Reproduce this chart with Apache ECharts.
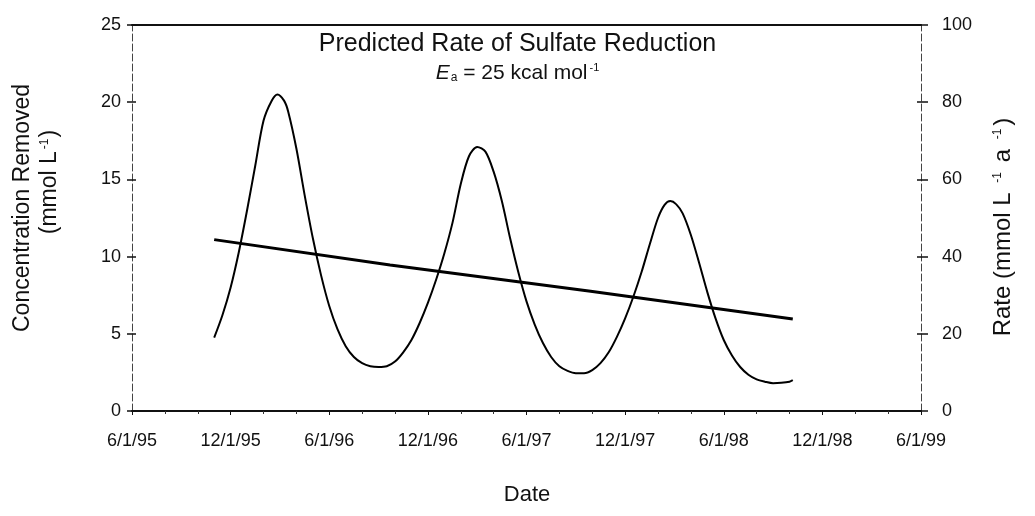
<!DOCTYPE html>
<html>
<head>
<meta charset="utf-8">
<script src="https://cdn.jsdelivr.net/npm/echarts@6/dist/echarts.min.js"></script>
<style>
  html, body { margin: 0; padding: 0; background: #fff; }
  #chart { width: 1035px; height: 516px; }
</style>
</head>
<body>
<div id="chart"></div>
<script>
// X positions are months after 6/1/95; ticks every 6 months
const tickLabels = ['6/1/95', '12/1/95', '6/1/96', '12/1/96', '6/1/97', '12/1/97', '6/1/98', '12/1/98', '6/1/99'];

// Seasonal sulfate reduction rate (mmol L-1 a-1), right axis
const rateMonths = [5.0, 5.5, 6.0, 6.5, 7.0, 7.5, 8.0, 8.5, 8.85, 9.25, 9.5, 10.0, 10.5, 11.0, 11.5, 12.0, 12.5, 13.0, 13.5, 14.0,
  14.5, 15.0, 15.5, 16.0, 16.5, 17.0, 17.5, 18.0, 18.5, 19.0, 19.5, 20.0, 20.5, 21.0, 21.5, 22.0, 22.5, 23.0, 23.5, 24.0,
  24.5, 25.0, 25.5, 26.0, 26.5, 27.0, 27.5, 28.0, 28.5, 29.0, 29.5, 30.0, 30.5, 31.0, 31.5, 32.0, 32.4, 32.75, 33.1, 33.5,
  34.0, 34.5, 35.0, 35.5, 36.0, 36.5, 37.0, 37.5, 38.0, 38.5, 39.0, 39.5, 40.0, 40.2];
const rateValues = [19.0, 24.8, 32.0, 41.2, 52.0, 63.6, 75.2, 80.4, 82.0, 80.4, 77.6, 68.0, 56.0, 44.8, 35.2, 27.2, 21.2, 16.8, 14.0, 12.4,
  11.6, 11.4, 11.6, 12.8, 15.2, 18.4, 22.8, 28.0, 34.0, 40.8, 48.8, 58.8, 66.0, 68.4, 67.2, 62.0, 54.4, 44.8, 36.0, 28.4,
  22.4, 17.6, 14.0, 11.6, 10.4, 9.8, 9.8, 10.6, 12.4, 15.2, 19.2, 24.0, 29.6, 36.0, 43.2, 50.0, 53.4, 54.4, 53.6, 51.2,
  45.6, 38.4, 30.8, 24.0, 18.4, 14.4, 11.4, 9.4, 8.2, 7.6, 7.2, 7.3, 7.6, 8.0];

// Concentration removed (mmol L-1), left axis
const concMonths = [5.0, 15.7, 27.9, 40.2];
const concValues = [11.1, 9.45, 7.75, 5.96];

const FONT = 'Liberation Sans, Arial, Helvetica, sans-serif';

const rateData = rateMonths.map((m, i) => [m, rateValues[i]]);
const concData = concMonths.map((m, i) => [m, concValues[i]]);

const chart = echarts.init(document.getElementById('chart'), null, { renderer: 'canvas' });

const gridLeft = 132, gridRight = 114, gridTop = 25, gridBottom = 105;

const sideLine = { show: true, onZero: false, lineStyle: { color: '#444', width: 1, type: [7, 3] } };

// Short tick stubs drawn on the inner side of each value axis
const innerTicks = (pos, max, step) => ({
  type: 'value', min: 0, max: max, interval: step, position: pos,
  axisLine: { show: false, onZero: false },
  axisTick: { show: true, inside: true, length: 4, lineStyle: { color: '#111', width: 1.5 } },
  axisLabel: { show: false },
  splitLine: { show: false }
});

chart.setOption({
  animation: false,
  backgroundColor: '#ffffff',
  textStyle: { fontFamily: FONT, color: '#111' },
  title: {
    left: 'center',
    top: 27,
    itemGap: 5,
    text: 'Predicted Rate of Sulfate Reduction',
    textStyle: { fontFamily: FONT, fontSize: 25, fontWeight: 'normal', color: '#111' },
    subtext: '{i|E}{s|a}{n| = 25 kcal mol}{p|-1}',
    subtextStyle: {
      fontFamily: FONT, fontSize: 21, color: '#111',
      rich: {
        i: { fontFamily: FONT, fontSize: 21, fontStyle: 'italic', color: '#111' },
        s: { fontFamily: FONT, fontSize: 12, color: '#111', padding: [9, 0, 0, 1] },
        n: { fontFamily: FONT, fontSize: 21, color: '#111' },
        p: { fontFamily: FONT, fontSize: 11, color: '#111', padding: [0, 0, 11, 2] }
      }
    }
  },
  grid: { left: gridLeft, right: gridRight, top: gridTop, bottom: gridBottom, containLabel: false },
  xAxis: [{
    type: 'value',
    min: 0, max: 48, interval: 6,
    position: 'bottom',
    axisLine: { onZero: false, lineStyle: { color: '#111', width: 2 } },
    axisTick: { show: true, length: 4, lineStyle: { color: '#111', width: 1 } },
    minorTick: { show: true, splitNumber: 3, length: 3, lineStyle: { color: '#333', width: 1 } },
    axisLabel: {
      fontFamily: FONT, fontSize: 18, color: '#111', margin: 21,
      formatter: v => tickLabels[Math.round(v / 6)] || ''
    },
    splitLine: { show: false }
  }, {
    type: 'value',
    min: 0, max: 48,
    position: 'top',
    axisLine: { show: true, onZero: false, lineStyle: { color: '#111', width: 2 } },
    axisTick: { show: false },
    axisLabel: { show: false },
    splitLine: { show: false }
  }],
  yAxis: [{
    type: 'value',
    min: 0, max: 25, interval: 5,
    position: 'left',
    axisLine: sideLine,
    axisTick: { show: true, length: 5, lineStyle: { color: '#111', width: 1.5 } },
    axisLabel: { fontFamily: FONT, fontSize: 18, color: '#111', margin: 11 },
    splitLine: { show: false }
  }, {
    type: 'value',
    min: 0, max: 100, interval: 20,
    position: 'right',
    axisLine: sideLine,
    axisTick: { show: true, length: 7, lineStyle: { color: '#111', width: 1.5 } },
    axisLabel: { fontFamily: FONT, fontSize: 18, color: '#111', margin: 21 },
    splitLine: { show: false }
  },
  innerTicks('left', 25, 5),
  innerTicks('right', 100, 20)],
  series: [{
    name: 'Rate',
    type: 'line',
    xAxisIndex: 0,
    yAxisIndex: 1,
    data: rateData,
    smooth: 0.3,
    showSymbol: false,
    lineStyle: { color: '#000', width: 2 }
  }, {
    name: 'Concentration Removed',
    type: 'line',
    xAxisIndex: 0,
    yAxisIndex: 0,
    data: concData,
    smooth: false,
    showSymbol: false,
    lineStyle: { color: '#000', width: 3 }
  }],
  graphic: [{
    type: 'text',
    x: 23, y: 208, rotation: Math.PI / 2,
    style: {
      text: 'Concentration Removed',
      font: '23px ' + FONT,
      fill: '#111',
      align: 'center',
      verticalAlign: 'middle'
    }
  }, {
    type: 'text',
    x: 50, y: 182, rotation: Math.PI / 2,
    style: {
      text: '{m|(mmol L}{p|-1}{m|)}',
      font: '23px ' + FONT,
      fill: '#111',
      align: 'center',
      verticalAlign: 'middle',
      rich: {
        m: { font: '23px ' + FONT, fill: '#111' },
        p: { font: '12px ' + FONT, fill: '#111', padding: [0, 1, 11, 2] }
      }
    }
  }, {
    type: 'text',
    x: 1003, y: 227, rotation: Math.PI / 2,
    style: {
      text: '{m|Rate (mmol L }{p|-1}{m| a }{p|-1}{m|)}',
      font: '24px ' + FONT,
      fill: '#111',
      align: 'center',
      verticalAlign: 'middle',
      rich: {
        m: { font: '24px ' + FONT, fill: '#111' },
        p: { font: '12px ' + FONT, fill: '#111', padding: [0, 3, 11, 3] }
      }
    }
  }, {
    type: 'text',
    x: 527, y: 495,
    style: {
      text: 'Date',
      font: '22px ' + FONT,
      fill: '#111',
      align: 'center',
      verticalAlign: 'middle'
    }
  }]
});
</script>
</body>
</html>
